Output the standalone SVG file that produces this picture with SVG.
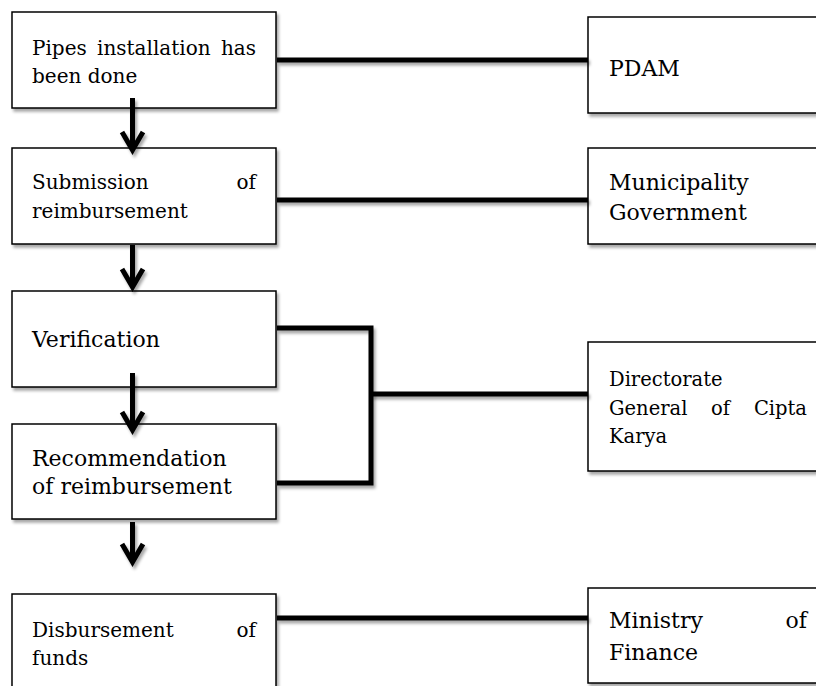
<svg xmlns="http://www.w3.org/2000/svg" width="816" height="686" viewBox="0 0 816 686">
  <style>
    .box { fill: #ffffff; stroke: #000000; stroke-width: 1.5; filter: url(#shadow); }
    .conn { fill: none; stroke: #000000; stroke-width: 5; stroke-linejoin: miter; filter: url(#shadow); }
    .arrow { fill: none; stroke: #000000; stroke-width: 5; stroke-linejoin: miter; filter: url(#shadow); }
    text { font-family: "DejaVu Serif", "Liberation Serif", serif; fill: #000000; }
    .s20 { font-size: 20px; }
    .s22 { font-size: 22px; }
    .s195 { font-size: 19.5px; }
    .end { text-anchor: end; }
  </style>
  <defs>
    <filter id="shadow" filterUnits="userSpaceOnUse" x="0" y="0" width="816" height="686">
      <feDropShadow dx="2" dy="3" stdDeviation="1.8" flood-color="#000000" flood-opacity="0.35"/>
    </filter>
    <marker id="chev" viewBox="-26 -16 32 32" refX="0" refY="0" markerWidth="32" markerHeight="32" markerUnits="userSpaceOnUse" orient="auto" overflow="visible">
      <polyline points="-18,-10.5 0,0 -18,10.5" fill="none" stroke="#000000" stroke-width="5" stroke-linejoin="miter"/>
    </marker>
  </defs>

  <g id="node-pipes">
    <rect class="box" x="12" y="12" width="264" height="96"/>
    <text class="s20" x="32" y="55">Pipes</text>
    <text class="s20" x="97" y="55">installation</text>
    <text class="s20 end" x="256" y="55">has</text>
    <text class="s20" x="32" y="83">been done</text>
  </g>

  <g id="node-submission">
    <rect class="box" x="12" y="148" width="264" height="96"/>
    <text class="s20" x="32" y="189">Submission</text>
    <text class="s20 end" x="256" y="189">of</text>
    <text class="s20" x="32" y="218">reimbursement</text>
  </g>

  <g id="node-verification">
    <rect class="box" x="12" y="291" width="264" height="96"/>
    <text class="s22" x="32" y="347">Verification</text>
  </g>

  <g id="node-recommendation">
    <rect class="box" x="12" y="424" width="264" height="95"/>
    <text class="s22" x="32" y="466">Recommendation</text>
    <text class="s22" x="32" y="494">of reimbursement</text>
  </g>

  <g id="node-disbursement">
    <rect class="box" x="12" y="594" width="264" height="110"/>
    <text class="s20" x="32" y="637">Disbursement</text>
    <text class="s20 end" x="256" y="637">of</text>
    <text class="s20" x="32" y="665">funds</text>
  </g>

  <g id="node-pdam">
    <rect class="box" x="588" y="17" width="250" height="96"/>
    <text class="s22" x="609" y="76">PDAM</text>
  </g>

  <g id="node-municipality">
    <rect class="box" x="588" y="148" width="250" height="96"/>
    <text class="s22" x="609" y="190">Municipality</text>
    <text class="s22" x="609" y="220">Government</text>
  </g>

  <g id="node-directorate">
    <rect class="box" x="588" y="342" width="250" height="129"/>
    <text class="s195" x="609" y="386">Directorate</text>
    <text class="s195" x="609" y="415">General</text>
    <text class="s195" x="711" y="415">of</text>
    <text class="s195 end" x="807" y="415">Cipta</text>
    <text class="s195" x="609" y="443">Karya</text>
  </g>

  <g id="node-ministry">
    <rect class="box" x="588" y="588" width="250" height="95"/>
    <text class="s22" x="609" y="628">Ministry</text>
    <text class="s22 end" x="807" y="628">of</text>
    <text class="s22" x="609" y="660">Finance</text>
  </g>

  <g id="connectors">
    <line class="conn" x1="277" y1="60" x2="588" y2="60"/>
    <line class="conn" x1="277" y1="200" x2="588" y2="200"/>
    <polyline class="conn" points="277,328 371,328 371,483 277,483"/>
    <line class="conn" x1="371" y1="394" x2="588" y2="394"/>
    <line class="conn" x1="277" y1="618" x2="588" y2="618"/>
    <line class="arrow" x1="132.5" y1="98" x2="132.5" y2="150" marker-end="url(#chev)"/>
    <line class="arrow" x1="132.5" y1="245" x2="132.5" y2="287" marker-end="url(#chev)"/>
    <line class="arrow" x1="132.5" y1="373" x2="132.5" y2="430" marker-end="url(#chev)"/>
    <line class="arrow" x1="132.5" y1="522" x2="132.5" y2="562" marker-end="url(#chev)"/>
  </g>
</svg>
